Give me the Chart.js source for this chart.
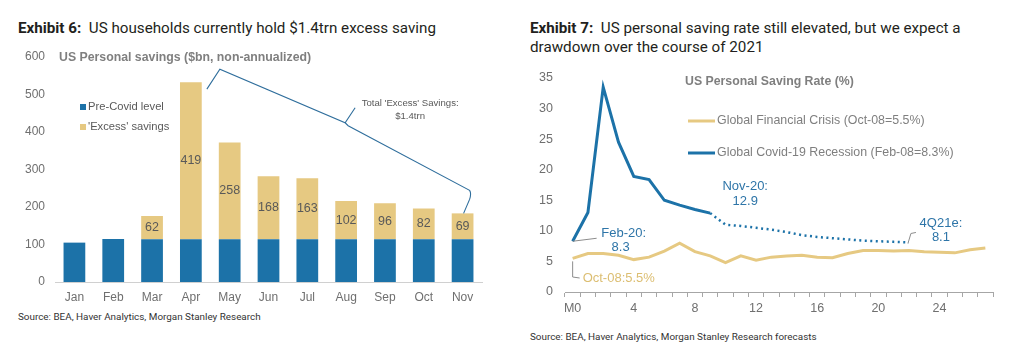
<!DOCTYPE html>
<html>
<head>
<meta charset="utf-8">
<script src="https://cdn.jsdelivr.net/npm/chart.js@4.4.1/dist/chart.umd.min.js"></script>
<style>
  body { margin: 0; background: #fff; width: 1013px; height: 352px; overflow: hidden; position: relative; font-family: Roboto, sans-serif; }
  .t { position: absolute; font-size: 15.2px; color: #231f20; white-space: nowrap; line-height: 19px; }
  .src { position: absolute; font-size: 9.9px; color: #333; white-space: nowrap; }
  canvas { position: absolute; top: 0; }
</style>
</head>
<body>
<div class="t" style="left:18px;top:19px"><b>Exhibit 6:</b>&nbsp; US households currently hold $1.4trn excess saving</div>
<div class="t" style="left:530px;top:19px"><b>Exhibit 7:</b>&nbsp; US personal saving rate still elevated, but we expect a<br>drawdown over the course of 2021</div>
<div class="src" style="left:18px;top:311px">Source: BEA, Haver Analytics, Morgan Stanley Research</div>
<div class="src" style="left:530px;top:331px">Source: BEA, Haver Analytics, Morgan Stanley Research forecasts</div>

<canvas id="savings" width="505" height="310" style="left:0"></canvas>
<canvas id="rate" width="493" height="320" style="left:520px"></canvas>

<script>
// Exhibit 6 data
const months = ['Jan', 'Feb', 'Mar', 'Apr', 'May', 'Jun', 'Jul', 'Aug', 'Sep', 'Oct', 'Nov']
const preCovid = [105, 115, 114, 114, 114, 114, 114, 114, 114, 114, 114]
const excess = [null, null, 62, 419, 258, 168, 163, 102, 96, 82, 69]

// Exhibit 7 data
const periods = ['M0', '1', '2', '3', '4', '5', '6', '7', '8', '9', '10', '11', '12', '13',
  '14', '15', '16', '17', '18', '19', '20', '21', '22', '23', '24', '25', '26', '27']
const gfc = [5.5, 6.3, 6.3, 6.0, 5.3, 5.7, 6.7, 8.0, 6.6, 5.9, 4.8, 5.9, 5.2, 5.7,
  5.9, 6.0, 5.7, 5.6, 6.3, 6.8, 6.8, 6.7, 6.8, 6.6, 6.5, 6.4, 6.9, 7.2]
const covid = [8.3, 13.0, 33.5, 24.5, 18.9, 18.4, 15.0, 14.2, 13.5, 12.9]
const covidForecast = [null, null, null, null, null, null, null, null, null,
  12.9, 11.0, 10.8, 10.5, 10.2, 9.8, 9.3, 9.0, 8.8, 8.6, 8.4, 8.3, 8.2, 8.1]

const BLUE = '#1c72a8'
const GOLD = '#e6c982'
const GREY = '#6f6f6f'

Chart.defaults.font.family = '"Liberation Sans", Arial, sans-serif'
Chart.defaults.font.size = 12
Chart.defaults.color = GREY

// labels, legend and brace for the savings chart
const savingsExtras = {
  id: 'savingsExtras',
  afterDatasetsDraw(chart) {
    const { ctx, chartArea, scales: { x, y } } = chart
    const bars = chart.getDatasetMeta(1).data
    ctx.save()
    ctx.font = '12.5px "Liberation Sans"'
    ctx.fillStyle = '#595959'
    ctx.textAlign = 'center'
    ctx.textBaseline = 'middle'
    bars.forEach((b, i) => {
      if (excess[i] == null) return
      ctx.fillText(excess[i], b.x, (b.y + b.base) / 2)
    })

    // chart title
    ctx.textAlign = 'left'
    ctx.font = 'bold 12.3px "Liberation Sans"'
    ctx.fillStyle = '#7f7f7f'
    ctx.fillText('US Personal savings ($bn, non-annualized)', chartArea.left + 4, y.getPixelForValue(600) + 1)

    // legend
    ctx.font = '11.2px "Liberation Sans"'
    const items = [['Pre-Covid level', BLUE, 107], ["'Excess' savings", GOLD, 127]]
    items.forEach(([label, col, ly]) => {
      ctx.fillStyle = col
      ctx.fillRect(80, ly - 3, 6, 6)
      ctx.fillStyle = '#595959'
      ctx.fillText(label, 88, ly)
    })

    // brace from Apr to Nov
    const apr = bars[3], nov = bars[10]
    const tipX = x.getPixelForValue(7) + 2
    const tipY = y.getPixelForValue(422)
    ctx.strokeStyle = '#2f6e9c'
    ctx.lineWidth = 1.1
    ctx.beginPath()
    ctx.moveTo(apr.x + 16, apr.y + 7)
    ctx.lineTo(apr.x + 29, apr.y - 13)
    ctx.lineTo(tipX - 3, tipY - 1)
    ctx.lineTo(tipX + 7, tipY - 16)
    ctx.moveTo(tipX - 3, tipY - 1)
    ctx.lineTo(tipX, tipY + 2)
    ctx.lineTo(nov.x + 7, nov.y - 23)
    ctx.quadraticCurveTo(nov.x + 9, nov.y - 20, nov.x + 7, nov.y - 14)
    ctx.lineTo(nov.x + 1, nov.y)
    ctx.stroke()

    ctx.fillStyle = '#595959'
    ctx.font = '9.6px "Liberation Sans"'
    ctx.textAlign = 'center'
    ctx.fillText("Total 'Excess' Savings:", tipX + 62, tipY - 20)
    ctx.fillText('$1.4trn', tipX + 62, tipY - 7)
    ctx.restore()
  }
}

new Chart(document.getElementById('savings'), {
  type: 'bar',
  data: {
    labels: months,
    datasets: [
      { label: 'Pre-Covid level', data: preCovid, backgroundColor: BLUE },
      { label: "'Excess' savings", data: excess, backgroundColor: GOLD }
    ]
  },
  options: {
    responsive: false,
    animation: false,
    layout: { padding: { top: 57, right: 23, left: 0, bottom: 0 } },
    datasets: { bar: { barPercentage: 0.56, categoryPercentage: 1 } },
    scales: {
      x: {
        stacked: true,
        grid: { display: false, drawTicks: false },
        border: { color: '#d0d0d0' },
        ticks: { padding: 8, color: GREY, autoSkip: false, maxRotation: 0 },
        afterFit: s => { s.height = 28 }
      },
      y: {
        stacked: true,
        min: 0,
        max: 600,
        ticks: { stepSize: 100, padding: 10, color: GREY },
        grid: { display: false, drawTicks: false },
        border: { display: false },
        afterFit: s => { s.width = 55 }
      }
    },
    plugins: { legend: { display: false }, tooltip: { enabled: false } }
  },
  plugins: [savingsExtras]
})

// legend and call-outs for the saving rate chart
const rateExtras = {
  id: 'rateExtras',
  afterDatasetsDraw(chart) {
    const { ctx, chartArea, scales: { x, y } } = chart
    ctx.save()
    ctx.textBaseline = 'middle'
    ctx.textAlign = 'left'
    ctx.font = 'bold 12.3px "Liberation Sans"'
    ctx.fillStyle = '#7f7f7f'
    ctx.fillText('US Personal Saving Rate (%)', chartArea.left + 120, y.getPixelForValue(35) + 4)

    ctx.font = '12.4px "Liberation Sans"'
    const items = [['Global Financial Crisis (Oct-08=5.5%)', GOLD, 121], ['Global Covid-19 Recession (Feb-08=8.3%)', BLUE, 153]]
    items.forEach(([label, col, ly]) => {
      ctx.strokeStyle = col
      ctx.lineWidth = 3
      ctx.beginPath()
      ctx.moveTo(chartArea.left + 123, ly)
      ctx.lineTo(chartArea.left + 150, ly)
      ctx.stroke()
      ctx.fillStyle = '#7f7f7f'
      ctx.fillText(label, chartArea.left + 152, ly)
    })

    // leader lines
    ctx.strokeStyle = '#8c8c8c'
    ctx.lineWidth = 1
    const x0 = x.getPixelForValue(0)
    const x22 = x.getPixelForValue(22)
    ctx.beginPath()
    ctx.moveTo(x0, y.getPixelForValue(covid[0]))
    ctx.lineTo(x0 + 24, y.getPixelForValue(covid[0]) - 3)
    ctx.moveTo(x0, y.getPixelForValue(gfc[0]) + 3)
    ctx.lineTo(x0, 277)
    ctx.lineTo(x0 + 7, 278)
    ctx.moveTo(x22 - 1, y.getPixelForValue(covidForecast[22]) + 1)
    ctx.lineTo(x22 + 2, y.getPixelForValue(covidForecast[22]) - 9)
    ctx.lineTo(x22 + 7, y.getPixelForValue(covidForecast[22]) - 10)
    ctx.stroke()

    ctx.font = '13px "Liberation Sans"'
    ctx.fillStyle = '#2e75a8'
    ctx.textAlign = 'center'
    const x9 = x.getPixelForValue(9)
    ctx.fillText('Nov-20:', x9 + 35, 186)
    ctx.fillText('12.9', x9 + 35, 201)
    ctx.fillText('Feb-20:', x0 + 51, 233)
    ctx.fillText('8.3', x0 + 48, 247)
    ctx.fillText('4Q21e:', x22 + 32, 223)
    ctx.fillText('8.1', x22 + 32, 237)
    ctx.fillStyle = '#dcbe72'
    ctx.textAlign = 'left'
    ctx.fillText('Oct-08:5.5%', x0 + 10, 278)
    ctx.restore()
  }
}

new Chart(document.getElementById('rate'), {
  type: 'line',
  data: {
    labels: periods,
    datasets: [
      { label: 'Global Financial Crisis (Oct-08=5.5%)', data: gfc, borderColor: GOLD, borderWidth: 3 },
      { label: 'Global Covid-19 Recession (Feb-08=8.3%)', data: covid, borderColor: BLUE, borderWidth: 3 },
      { label: 'Forecast', data: covidForecast, borderColor: BLUE, borderWidth: 2.5, borderDash: [2, 3.5] }
    ]
  },
  options: {
    responsive: false,
    animation: false,
    layout: { padding: { top: 78, right: 20, left: 0, bottom: 0 } },
    elements: { point: { radius: 0 }, line: { tension: 0, borderCapStyle: 'butt' } },
    scales: {
      x: {
        offset: true,
        grid: { offset: true, drawOnChartArea: false, tickLength: 5, color: '#a6a6a6' },
        border: { color: '#a6a6a6' },
        ticks: {
          autoSkip: false,
          maxRotation: 0,
          padding: 4,
          color: GREY,
          font: { size: 12.5 },
          callback: (v, i) => (i % 4 === 0 ? periods[i] : '')
        },
        afterFit: s => { s.height = 28 }
      },
      y: {
        min: 0,
        max: 35,
        ticks: { stepSize: 5, padding: 12, color: GREY, font: { size: 12.5 } },
        grid: { display: false, drawTicks: false },
        border: { display: false },
        afterFit: s => { s.width = 45 }
      }
    },
    plugins: { legend: { display: false }, tooltip: { enabled: false } }
  },
  plugins: [rateExtras]
})
</script>
</body>
</html>
